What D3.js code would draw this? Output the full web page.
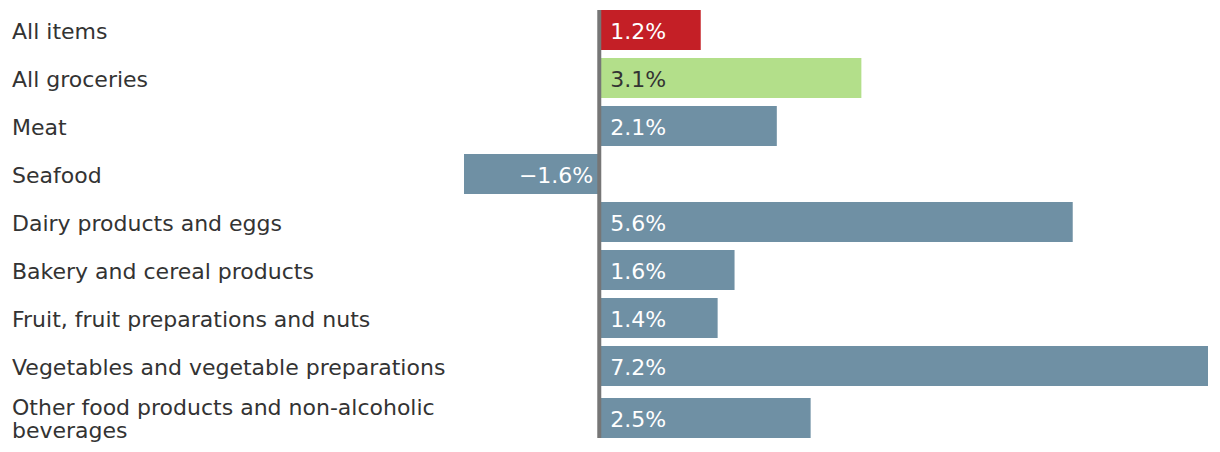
<!DOCTYPE html>
<html><head><meta charset="utf-8">
<script src="https://cdn.jsdelivr.net/npm/d3@7"></script>
<style>body{margin:0;background:#fff}svg{display:block}</style>
</head><body>
<svg id="c" width="1220" height="452"></svg>
<script>
const categories = ["All items","All groceries","Meat","Seafood","Dairy products and eggs","Bakery and cereal products","Fruit, fruit preparations and nuts","Vegetables and vegetable preparations","Other food products and non-alcoholic beverages"];
const values = [1.2,3.1,2.1,-1.6,5.6,1.6,1.4,7.2,2.5];
const valueLabels = ["1.2%","3.1%","2.1%","\u22121.6%","5.6%","1.6%","1.4%","7.2%","2.5%"];
const labelLines = [["All items"],["All groceries"],["Meat"],["Seafood"],["Dairy products and eggs"],["Bakery and cereal products"],["Fruit, fruit preparations and nuts"],["Vegetables and vegetable preparations"],["Other food products and non-alcoholic","beverages"]];
const colors = ["#c41f26","#b3df8a","#6f90a4","#6f90a4","#6f90a4","#6f90a4","#6f90a4","#6f90a4","#6f90a4"];
const textColors = ["#fff","#333","#fff","#fff","#fff","#fff","#fff","#fff","#fff"];

const svg = d3.select("#c");
const font = "'DejaVu Sans', sans-serif";
const x = d3.scaleLinear().domain([-1.6,7.2]).range([464,1208]);
const y = d3.scaleBand().domain(d3.range(categories.length)).range([10,434]).paddingInner(8/48).paddingOuter(0);
const extra = i => (labelLines[i].length-1)*4;
const rowTop = i => y(i)+extra(i);
const bh = y.bandwidth();

const g = svg.append("g");
g.selectAll("rect.bar").data(values).join("rect")
  .attr("class","bar")
  .attr("x",d=>Math.min(x(0),x(d)))
  .attr("width",d=>Math.abs(x(d)-x(0)))
  .attr("y",(d,i)=>rowTop(i))
  .attr("height",bh)
  .attr("fill",(d,i)=>colors[i]);

g.selectAll("text.val").data(values).join("text")
  .attr("class","val")
  .attr("x",d=>d<0?x(0)-6:x(0)+11)
  .attr("y",(d,i)=>rowTop(i)+bh/2+1)
  .attr("dy","0.36em")
  .attr("text-anchor",d=>d<0?"end":"start")
  .attr("fill",(d,i)=>textColors[i])
  .style("font-family",font).style("font-size","22px")
  .text((d,i)=>valueLabels[i]);

const lab = g.selectAll("text.lab").data(categories).join("text")
  .attr("class","lab")
  .attr("x",12)
  .attr("y",(d,i)=>rowTop(i)+bh/2+1 - (labelLines[i].length-1)*11.5)
  .attr("fill","#333")
  .style("font-family",font).style("font-size","22px");
lab.selectAll("tspan").data((d,i)=>labelLines[i]).join("tspan")
  .attr("x",12)
  .attr("dy",(d,j)=>j===0?"0.36em":"23px")
  .text(d=>d);

svg.append("line")
  .attr("x1",x(0)).attr("x2",x(0))
  .attr("y1",y(0)).attr("y2",rowTop(categories.length-1)+bh)
  .attr("stroke","#767676").attr("stroke-width",4);
</script>
</body></html>
